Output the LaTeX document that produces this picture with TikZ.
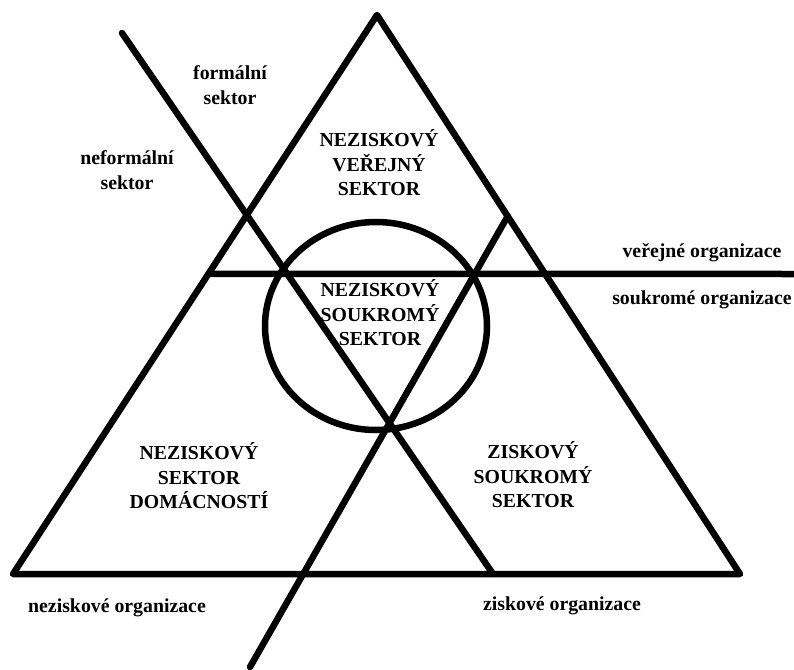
\documentclass[tikz,border=0pt]{standalone}
\usepackage{fontspec}
\setmainfont{Liberation Serif}
\usepackage{tikz}
\usetikzlibrary{positioning,calc}
\tikzset{
  bar/.style={line width=6.5pt,black,line cap=round,line join=round},
  sect/.style={font=\fontsize{19.8}{24.5}\selectfont\bfseries,align=center,inner sep=0pt},
  lab/.style={font=\fontsize{19.8}{24.5}\selectfont\bfseries,align=center,inner sep=0pt},
}
\begin{document}
\begin{tikzpicture}[x=1pt,y=-1pt]
  \useasboundingbox (0,0) rectangle (794,669);
  \coordinate (top) at (377,15);
  \coordinate (bl) at (13,574);
  \coordinate (br) at (740,574);
  \coordinate (hl) at ($(top)!0.463!(bl)$);
  \coordinate (hr) at (794,274);
  \coordinate (fa) at (122,33);
  \coordinate (fb) at (493,574);
  \coordinate (ga) at ($(top)!0.36!(br)$);
  \coordinate (gb) at (250,667);
  \draw[bar] (top) -- (bl) -- (br) -- cycle;
  \draw[bar] (hl) -- (hr);
  \draw[bar] (fa) -- (fb);
  \draw[bar] (ga) -- (gb);
  \draw[bar] (376,326) ellipse [x radius=111,y radius=104];
  \node[sect] (nvs) at (379,163) {NEZISKOVÝ\\VEŘEJNÝ\\SEKTOR};
  \node[sect] (nss) at (380,313) {NEZISKOVÝ\\SOUKROMÝ\\SEKTOR};
  \node[sect] (nsd) at (199,476) {NEZISKOVÝ\\SEKTOR\\DOMÁCNOSTÍ};
  \node[sect] (zss) at (533,475) {ZISKOVÝ\\SOUKROMÝ\\SEKTOR};
  \node[lab] (form) at (230,85) {formální\\sektor};
  \node[lab] (nform) at (127,170) {neformální\\sektor};
  \node[lab] (verej) at (702,253) {veřejné organizace};
  \node[lab] (soukr) at (702,300) {soukromé organizace};
  \node[lab] (nezis) at (117,608) {neziskové organizace};
  \node[lab] (zisk) at (562,606) {ziskové organizace};
\end{tikzpicture}
\end{document}
